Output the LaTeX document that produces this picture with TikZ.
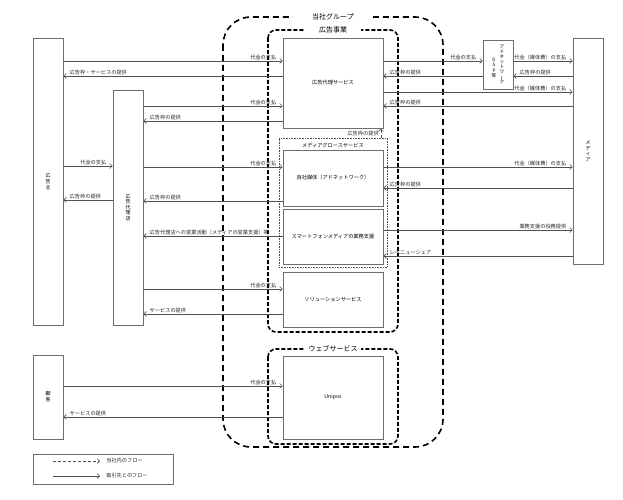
\documentclass[tikz,border=0pt]{standalone}
\usepackage{fontspec}
\setmainfont{Noto Sans CJK JP}
\usetikzlibrary{arrows.meta}
\definecolor{boxgray}{HTML}{6E6E6E}
\definecolor{linegray}{HTML}{505050}
\newcommand\lblfont{\fontsize{5.2}{6}\selectfont}
\newcommand\flowR[4]{\draw[flow] (#1.east |- 0,#3) -- (#2.west |- 0,#3) node[pos=1,anchor=south east,xshift=-5pt,lbl]{#4};}
\newcommand\flowL[4]{\draw[flow] (#1.west |- 0,#3) -- (#2.east |- 0,#3) node[pos=1,anchor=south west,xshift=5pt,lbl]{#4};}
\newcommand\vbar{\rotatebox[origin=c]{90}{ー}}
\begin{document}
\begin{tikzpicture}[x=1pt,y=-1pt,
  box/.style={draw=boxgray,line width=0.8pt,fill=white,inner sep=0pt,font=\fontsize{5.2}{6}\selectfont,align=center},
  vtext/.style={font=\fontsize{5}{5.6}\selectfont,align=center,inner sep=0pt},
  flow/.style={draw=linegray,line width=0.6pt,-{Straight Barb[length=2.5pt,width=5pt]}},
  internal/.style={draw=linegray,line width=0.6pt,densely dashed,-{Straight Barb[length=2.5pt,width=5pt]}},
  lbl/.style={font=\lblfont,inner sep=1pt,text=black!85},
  grpA/.style={line width=1.6pt,dash pattern=on 6pt off 4pt,rounded corners=28pt},
  grpB/.style={line width=1.6pt,dash pattern=on 4pt off 2pt,rounded corners=8pt},
  grplbl/.style={fill=white,font=\fontsize{7}{8}\selectfont,inner sep=2pt}]
\useasboundingbox (0,0) rectangle (623,500);
% groups
\draw[grpA] (223,17) rectangle (443,447);
\node[grplbl,minimum width=80pt] (gl) at (333,17) {当社グループ};
\draw[grpB] (268,30) rectangle (398,332);
\node[grplbl,minimum width=56pt] (al) at (333,30) {広告事業};
\draw[grpB] (268,349) rectangle (398,444);
\node[grplbl,minimum width=56pt] (wl) at (333,349) {ウェブサービス};
% media growth dotted group
\node[draw=linegray,densely dotted,line width=0.6pt,minimum width=108pt,minimum height=129pt,inner sep=0pt] (mg) at (333,202.5) {};
\node[font=\fontsize{5.2}{6}\selectfont,inner sep=0pt] (mgl) at (333,145) {メディアグロースサービス};
% boxes
\node[box,minimum width=30pt,minimum height=287pt] (adv) at (48,181.5) {};
\node[vtext] (advt) at (adv.center) {広\\告\\主};
\node[box,minimum width=30pt,minimum height=235pt] (agency) at (128,207.5) {};
\node[vtext] (agt) at (agency.center) {広\\告\\代\\理\\店};
\node[box,minimum width=30pt,minimum height=84pt] (cust) at (48,397) {};
\node[vtext] (ct) at (cust.center) {顧\\客};
\node[box,minimum width=30pt,minimum height=226pt] (media) at (588,151) {};
\node[vtext] (mt) at (media.center) {メ\\デ\\ィ\\ア};
\node[box,minimum width=30pt,minimum height=49pt] (adnet) at (498,64.5) {};
\node[vtext,font=\fontsize{4.6}{5.1}\selectfont] (ant1) at (502,64.5) {ア\\ド\\ネ\\ッ\\ト\\ワ\\\vbar\\ク};
\node[vtext,font=\fontsize{4.6}{5.1}\selectfont] (ant2) at (494,68) {D\\S\\P\\等};
\node[box,minimum width=100pt,minimum height=90pt] (adsvc) at (333,83) {広告代理サービス};
\node[box,minimum width=100pt,minimum height=56pt] (own) at (333,178) {自社媒体（アドネットワーク）};
\node[box,minimum width=100pt,minimum height=55pt] (smart) at (333,236.5) {スマートフォンメディアの業務支援};
\node[box,minimum width=100pt,minimum height=55pt] (sol) at (333,299.5) {ソリューションサービス};
\node[box,minimum width=100pt,minimum height=83pt] (unipos) at (333,397.5) {Unipos};
% flows left side
\flowR{adv}{adsvc}{61}{代金の支払}
\flowL{adsvc}{adv}{76}{広告枠・サービスの提供}
\flowR{agency}{adsvc}{106}{代金の支払}
\flowL{adsvc}{agency}{121}{広告枠の提供}
\flowR{adv}{agency}{166}{代金の支払}
\flowL{agency}{adv}{200}{広告枠の提供}
\flowR{agency}{own}{167}{代金の支払}
\flowL{own}{agency}{201}{広告枠の提供}
\flowL{smart}{agency}{236}{広告代理店への営業活動（メディアの営業支援）等}
\flowR{agency}{sol}{289}{代金の支払}
\flowL{sol}{agency}{314}{サービスの提供}
\flowR{cust}{unipos}{386}{代金の支払}
\flowL{unipos}{cust}{417}{サービスの提供}
% flows right side
\flowR{adsvc}{adnet}{61}{代金の支払}
\flowL{adnet}{adsvc}{76}{広告枠の提供}
\flowR{adnet}{media}{61}{代金（媒体費）の支払}
\flowL{media}{adnet}{76}{広告枠の提供}
\flowR{adsvc}{media}{92}{代金（媒体費）の支払}
\flowL{media}{adsvc}{106}{広告枠の提供}
\flowR{own}{media}{167}{代金（媒体費）の支払}
\flowL{media}{own}{188}{広告枠の提供}
\flowR{smart}{media}{230}{業務支援の役務提供}
\flowL{media}{smart}{256}{レベニューシェア}
% internal flow
\draw[internal] (mg.north -| 381,0) -- (adsvc.south -| 381,0) node[midway,left,lbl,xshift=-1pt]{広告枠の提供};
% legend
\node[draw=boxgray,line width=0.6pt,minimum width=140pt,minimum height=30pt,inner sep=0pt] (leg) at (103,469) {};
\coordinate (l1a) at (53,461);
\coordinate (l1b) at (100,461);
\coordinate (l2a) at (53,476);
\coordinate (l2b) at (100,476);
\draw[internal] (l1a) -- (l1b) node[right,lbl,xshift=5pt]{当社内のフロー};
\draw[flow] (l2a) -- (l2b) node[right,lbl,xshift=5pt]{取引先とのフロー};
\end{tikzpicture}
\end{document}
